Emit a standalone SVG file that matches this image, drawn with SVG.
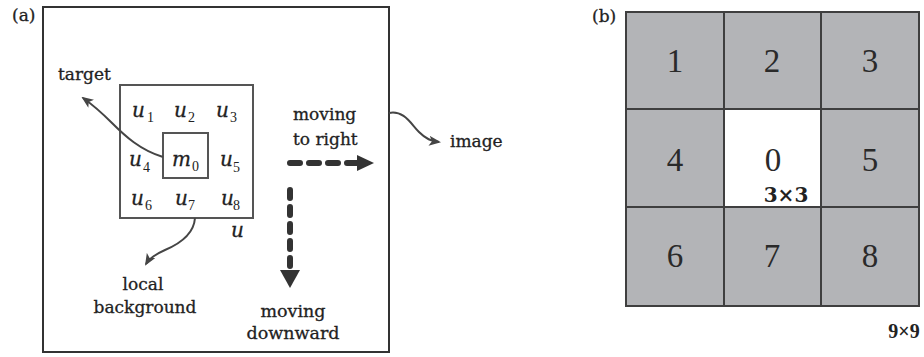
<svg xmlns="http://www.w3.org/2000/svg" width="924" height="357" viewBox="0 0 924 357">
  <style>
    .lbl { font-family: "DejaVu Serif", "Liberation Serif", serif; font-size: 17px; fill: #222; stroke: #222; stroke-width: 0.3; }
    .var { font-family: "DejaVu Serif", "Liberation Serif", serif; font-style: italic; font-size: 20px; fill: #222; stroke: #222; stroke-width: 0.3; }
    .sub { font-family: "Liberation Serif", "Times New Roman", serif; font-size: 14px; fill: #222; }
    .num { font-family: "Liberation Serif", "Times New Roman", serif; font-size: 33px; fill: #2a2a2a; text-anchor: middle; }
    .cell { fill: #b3b4b7; stroke: #3f3f3f; stroke-width: 2; }
    .hole { fill: #ffffff; stroke: #3f3f3f; stroke-width: 2; }
    .box { fill: none; stroke: #555; stroke-width: 2; }
    .curve { fill: none; stroke: #454545; stroke-width: 2; }
    .dash { fill: none; stroke: #333; stroke-width: 6; stroke-linecap: round; }
    .head { fill: #333; }
  </style>
  <defs>
    <marker id="arrow" viewBox="0 0 12 10" refX="10" refY="5" markerWidth="12" markerHeight="10" markerUnits="userSpaceOnUse" orient="auto">
      <path d="M0,0 L12,5 L0,10 L3,5 Z" fill="#454545"/>
    </marker>
  </defs>

  <!-- panel (a): sliding window over the image -->
  <text class="lbl" x="12" y="21">(a)</text>
  <g id="image-frame">
    <rect x="43" y="7" width="346" height="345" fill="none" stroke="#333" stroke-width="2"/>
  </g>

  <g id="local-window">
    <rect class="box" x="120" y="85" width="133" height="133"/>
    <text class="var" x="132" y="117">u</text><text class="sub" x="147" y="122">1</text>
    <text class="var" x="174" y="117">u</text><text class="sub" x="188" y="122">2</text>
    <text class="var" x="216" y="117">u</text><text class="sub" x="230" y="122">3</text>
    <text class="var" x="129" y="166">u</text><text class="sub" x="143" y="172">4</text>
    <text class="var" x="220" y="166">u</text><text class="sub" x="233" y="172">5</text>
    <text class="var" x="131" y="205">u</text><text class="sub" x="145" y="210">6</text>
    <text class="var" x="175" y="205">u</text><text class="sub" x="188" y="210">7</text>
    <text class="var" x="221" y="205">u</text><text class="sub" x="233" y="210">8</text>
    <text class="var" x="231" y="237">u</text>
  </g>

  <g id="target-cell">
    <rect class="box" x="163" y="133" width="45" height="45"/>
    <text class="var" x="172" y="166">m</text><text class="sub" x="192" y="171">0</text>
  </g>

  <g id="labels">
    <text class="lbl" x="58" y="80">target</text>
    <text class="lbl" x="293" y="120">moving</text>
    <text class="lbl" x="293" y="145">to right</text>
    <text class="lbl" x="143" y="290" text-anchor="middle">local</text>
    <text class="lbl" x="145" y="313" text-anchor="middle">background</text>
    <text class="lbl" x="293" y="317" text-anchor="middle" style="font-size:17.5px">moving</text>
    <text class="lbl" x="293" y="339" text-anchor="middle" style="font-size:17.5px">downward</text>
    <text class="lbl" x="450" y="147">image</text>
  </g>

  <g id="connectors">
    <path class="curve" d="M163,157 C140,150 125,136 112,123 C102,113 93,105 83,98" marker-end="url(#arrow)"/>
    <path class="curve" d="M195,218 C194,232 184,242 165,250 C156,254 149,259 146,264" marker-end="url(#arrow)"/>
    <path class="curve" d="M389,113 C404,110 411,124 419,132 C426,139 431,141 439,142" marker-end="url(#arrow)"/>
    <!-- horizontal sweep -->
    <path class="dash" d="M290,163 H357" stroke-dasharray="10 9"/>
    <polygon class="head" points="357,155 357,171 374,163"/>
    <!-- vertical sweep -->
    <path class="dash" d="M290,190 V270" stroke-dasharray="8 9"/>
    <polygon class="head" points="280,270 300,270 290,288"/>
  </g>

  <!-- panel (b): 9x9 window split into 3x3 blocks -->
  <text class="lbl" x="592" y="22">(b)</text>
  <g id="block-1"><rect class="cell" x="626" y="12" width="98" height="97"/><text class="num" x="675" y="72">1</text></g>
  <g id="block-2"><rect class="cell" x="724" y="12" width="97" height="97"/><text class="num" x="772" y="72">2</text></g>
  <g id="block-3"><rect class="cell" x="821" y="12" width="98" height="97"/><text class="num" x="870" y="72">3</text></g>
  <g id="block-4"><rect class="cell" x="626" y="109" width="98" height="98"/><text class="num" x="675" y="171">4</text></g>
  <g id="block-0">
    <rect class="hole" x="724" y="109" width="97" height="98"/>
    <text class="num" x="773" y="171">0</text>
    <text x="786" y="202" text-anchor="middle" style="font-family:'DejaVu Serif','Liberation Serif',serif;font-weight:bold;font-size:20px;fill:#222">3×3</text>
  </g>
  <g id="block-5"><rect class="cell" x="821" y="109" width="98" height="98"/><text class="num" x="870" y="171">5</text></g>
  <g id="block-6"><rect class="cell" x="626" y="207" width="98" height="99"/><text class="num" x="675" y="267">6</text></g>
  <g id="block-7"><rect class="cell" x="724" y="207" width="97" height="99"/><text class="num" x="772" y="267">7</text></g>
  <g id="block-8"><rect class="cell" x="821" y="207" width="98" height="99"/><text class="num" x="870" y="267">8</text></g>
  <text x="904" y="338" text-anchor="middle" style="font-family:'Liberation Serif',serif;font-weight:bold;font-size:20px;fill:#222">9×9</text>
</svg>
